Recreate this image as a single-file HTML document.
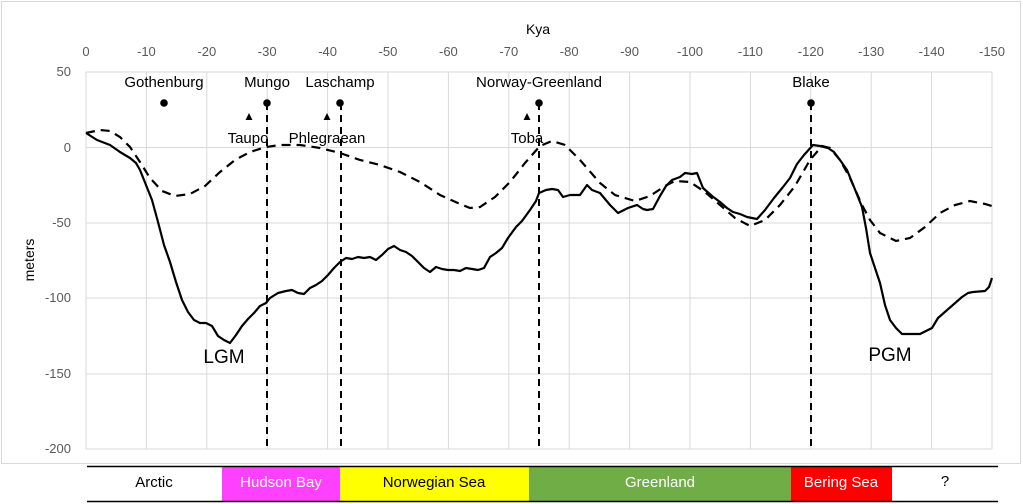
<!DOCTYPE html><html><head><style>body{margin:0;background:#fff}svg{display:block;font-family:"Liberation Sans",sans-serif}</style></head><body>
<svg width="1023" height="504" viewBox="0 0 1023 504">
<rect x="1.5" y="1.5" width="1019" height="462" fill="none" stroke="#d9d9d9"/>
<g stroke="#d9d9d9" stroke-width="1">
<line x1="86" y1="72" x2="992" y2="72"/><line x1="86" y1="147.5" x2="992" y2="147.5"/><line x1="86" y1="223" x2="992" y2="223"/><line x1="86" y1="298" x2="992" y2="298"/><line x1="86" y1="374" x2="992" y2="374"/><line x1="86" y1="449" x2="992" y2="449"/>
<line x1="86" y1="72" x2="86" y2="449"/><line x1="146.4" y1="72" x2="146.4" y2="449"/><line x1="206.8" y1="72" x2="206.8" y2="449"/><line x1="267.2" y1="72" x2="267.2" y2="449"/><line x1="327.6" y1="72" x2="327.6" y2="449"/><line x1="388" y1="72" x2="388" y2="449"/><line x1="448.4" y1="72" x2="448.4" y2="449"/><line x1="508.8" y1="72" x2="508.8" y2="449"/><line x1="569.2" y1="72" x2="569.2" y2="449"/><line x1="629.6" y1="72" x2="629.6" y2="449"/><line x1="690" y1="72" x2="690" y2="449"/><line x1="750.4" y1="72" x2="750.4" y2="449"/><line x1="810.8" y1="72" x2="810.8" y2="449"/><line x1="871.2" y1="72" x2="871.2" y2="449"/><line x1="931.6" y1="72" x2="931.6" y2="449"/><line x1="992" y1="72" x2="992" y2="449"/>
</g>
<g fill="#595959" font-size="13" text-anchor="middle">
<text x="86" y="56">0</text><text x="146.4" y="56">-10</text><text x="206.8" y="56">-20</text><text x="267.2" y="56">-30</text><text x="327.6" y="56">-40</text><text x="388" y="56">-50</text><text x="448.4" y="56">-60</text><text x="508.8" y="56">-70</text><text x="569.2" y="56">-80</text><text x="629.6" y="56">-90</text><text x="690" y="56">-100</text><text x="750.4" y="56">-110</text><text x="810.8" y="56">-120</text><text x="871.2" y="56">-130</text><text x="931.6" y="56">-140</text><text x="992" y="56">-150</text>
</g>
<g fill="#595959" font-size="13" text-anchor="end">
<text x="71" y="76">50</text><text x="71" y="152">0</text><text x="71" y="227">-50</text><text x="71" y="302">-100</text><text x="71" y="378">-150</text><text x="71" y="453">-200</text>
</g>
<text x="538" y="34" font-size="14" text-anchor="middle">Kya</text>
<text transform="translate(34,260) rotate(-90)" font-size="14" text-anchor="middle">meters</text>
<polyline fill="none" stroke="#000" stroke-width="2.2" stroke-dasharray="9,6" points="86,133 100,130 110,131 120,137 130,147 140,162 150,178 162,191 175,196 190,194 205,186 220,172 235,160 250,152 266,147 280,145 300,145 320,148 340,153 360,160 380,165 400,172 420,182 440,195 460,204 470,208 480,207 495,197 510,182 525,163 540,146 552,141 565,145 580,160 600,183 615,195 635,201 650,196 665,186 675,181 690,182 705,192 720,205 735,218 750,226 765,220 780,205 795,186 810,160 822,146 830,148 840,160 850,178 862,205 870,220 880,233 896,241 910,238 925,227 940,213 955,205 970,201 985,204 992,206"/>
<polyline fill="none" stroke="#000" stroke-width="2.2" stroke-linejoin="round" points="86,133 97,140 110,145 120,152 130,158 136,163 140,170 146,185 152,200 158,222 164,245 170,262 176,282 182,300 188,312 194,320 200,323 206,323 212,326 218,336 224,340 230,343 236,335 242,326 248,319 254,313 260,306 266,303 270,298 278,293 286,291 292,290 298,293 304,294 310,288 316,285 322,281 328,275 334,268 340,262 346,258 352,259 358,257 364,258 370,257 376,260 382,255 388,249 394,246 400,250 406,252 412,256 418,262 424,268 430,272 436,267 442,269 448,270 454,270 460,271 466,268 472,269 478,270 484,268 490,257 496,253 502,248 508,238 516,227 522,221 530,210 536,201 539,193 546,190 552,189 558,190 563,197 570,195 580,195 587,185 592,190 600,193 610,205 618,213 628,208 637,205 643,209 647,210 653,209 660,196 666,186 672,180 680,177 685,173 692,174 697,173 703,188 712,196 720,202 727,208 733,212 740,214 747,217 757,219 765,210 774,198 783,187 790,178 797,164 804,155 813,145 820,146 828,148 834,152 840,160 847,170 854,187 862,207 866,228 870,253 875,268 880,283 885,305 890,320 896,328 902,334 910,334 920,334 926,331 932,328 938,318 946,311 954,304 962,297 968,293 973,292 985,291 989,287 992,278"/>
<g stroke="#000" stroke-width="2" stroke-dasharray="7,5">
<line x1="267" y1="103" x2="267" y2="449"/><line x1="341" y1="103" x2="341" y2="449"/><line x1="539" y1="103" x2="539" y2="449"/><line x1="811" y1="103" x2="811" y2="449"/>
</g>
<g fill="#000"><circle cx="164" cy="103" r="3.8"/><circle cx="267" cy="103" r="3.8"/><circle cx="340" cy="103" r="3.8"/><circle cx="539" cy="103" r="3.8"/><circle cx="811" cy="103" r="3.8"/>
<polygon points="249,113 245.5,120 252.5,120"/><polygon points="327,113 323.5,120 330.5,120"/><polygon points="527,113 523.5,120 530.5,120"/></g>
<g font-size="15" text-anchor="middle" fill="#000">
<text x="164" y="87">Gothenburg</text><text x="267" y="87">Mungo</text><text x="340" y="87">Laschamp</text><text x="539" y="87">Norway-Greenland</text><text x="811" y="87">Blake</text>
<text x="248" y="143">Taupo</text><text x="327" y="143">Phlegraean</text><text x="527" y="143">Toba</text>
<text x="224" y="363" font-size="19">LGM</text><text x="890" y="361" font-size="19">PGM</text>
</g>
<rect x="87" y="467" width="135" height="34" fill="#fff"/>
<rect x="222" y="467" width="118" height="34" fill="#ff40ff"/>
<rect x="340" y="467" width="189" height="34" fill="#ffff00"/>
<rect x="529" y="467" width="262" height="34" fill="#70ad47"/>
<rect x="791" y="467" width="101" height="34" fill="#ff0000"/>
<rect x="892" y="467" width="106" height="34" fill="#fff"/>
<line x1="87" y1="466.5" x2="998" y2="466.5" stroke="#000" stroke-width="1.5"/>
<line x1="87" y1="501.5" x2="998" y2="501.5" stroke="#000" stroke-width="1.5"/>
<g font-size="15" text-anchor="middle">
<text x="154" y="487">Arctic</text><text x="281" y="487" fill="#fff">Hudson Bay</text><text x="434" y="487">Norwegian Sea</text><text x="660" y="487" fill="#fff">Greenland</text><text x="841" y="487" fill="#fff">Bering Sea</text><text x="945" y="486">?</text>
</g>
</svg></body></html>
